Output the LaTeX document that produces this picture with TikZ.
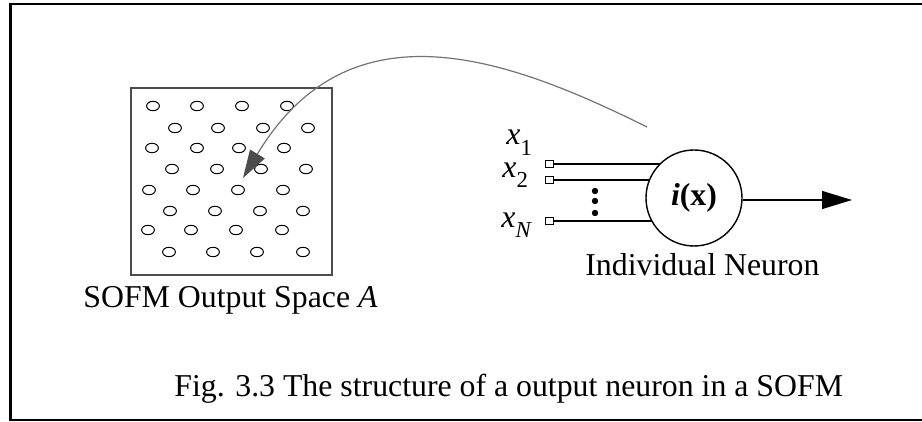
\documentclass[tikz,border=0pt]{standalone}
\usepackage{fontspec}
\setmainfont{Liberation Serif}
\usepackage{tikz}
\usetikzlibrary{arrows.meta,positioning}

\newcommand{\subsz}{\fontsize{11.4}{13}\selectfont}

\begin{document}
\begin{tikzpicture}[x=0.5pt,y=-0.5pt,font=\fontsize{15.9}{19}\selectfont,
  txt/.style={anchor=base west,inner sep=0pt},
  cell/.style={circle,draw,line width=0.7pt,minimum size=48pt,inner sep=0pt},
  inp/.style={draw,line width=0.5pt,minimum size=3.7pt,inner sep=0pt},
  site/.style={line width=0.5pt}]
\useasboundingbox (0,0) rectangle (922,422);
\draw[line width=1.3pt] (10.5,4) rectangle (940,420);
% output space
\node[draw=black!70,line width=0.6pt,minimum width=100.5pt,minimum height=93.5pt,inner sep=0pt] (space) at (231.5,181.5) {};
\foreach \y/\xs in {106/{153,197,242,287},128/{175,218,263,308},148/{152,197,239,284},169/{172,217,261,306},190/{149,193,238,283},211/{170,215,260,303},230/{148,191,236,282},252/{169,213,257,303}}{
  \foreach \x in \xs {\draw[site] (\x,\y) ellipse (3.2pt and 2.35pt);}
}
\node[txt] (spacelbl) at (83,308) {SOFM Output Space \textit{A}};
% neuron
\node[cell] (neuron) at (694,198) {\textbf{\textit{i}(x)}};
\node[txt] (neuronlbl) at (585,276) {Individual Neuron};
\node[inp] (in1) at (549.5,164) {};
\node[inp] (in2) at (549.5,180) {};
\node[inp] (inN) at (549.5,221) {};
\node[txt] (x1) at (506,145) {\textit{x}\raisebox{-5.5pt}{\subsz 1}};
\node[txt] (x2) at (502,178) {\textit{x}\raisebox{-5pt}{\subsz 2}};
\node[txt] (xN) at (501,228) {\textit{x}\raisebox{-5pt}{\subsz\textit{N}}};
\foreach \a/\n in {135/in1,158/in2,210/inN}{\draw[line width=0.6pt] (\n.east) -- (neuron.\a |- \n.east);}
\foreach \y in {191,201,213}{\fill (595,\y) circle (1.6pt);}
\coordinate (out) at (852,200);
\draw[line width=0.6pt,-{Triangle[length=15pt,width=9pt]}] (neuron.east |- out) -- (out);
% mapping arrow
\coordinate (src) at (647,127);
\coordinate (dst) at (243,178);
\draw[black!55,line width=0.6pt,-{Triangle[length=14pt,width=8.5pt,color=black!70,fill=black!70]}] (src) .. controls (508,58) and (350,0) .. (dst);
\node[txt] (caption) at (174,397) {Fig. 3.3 The structure of a output neuron in a SOFM};
\end{tikzpicture}
\end{document}
